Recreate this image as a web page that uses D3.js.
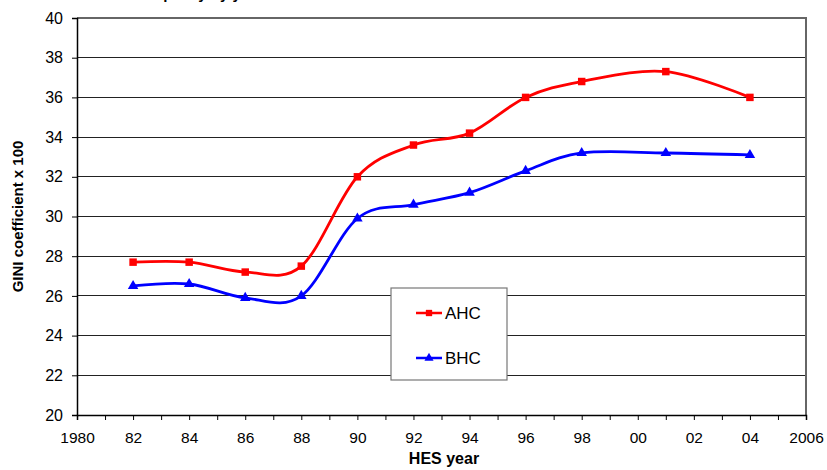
<!DOCTYPE html>
<html>
<head>
<meta charset="utf-8">
<script src="https://cdn.jsdelivr.net/npm/d3@7"></script>
<style>
  html, body { margin: 0; padding: 0; background: #fff; }
  svg { display: block; font-family: "Liberation Sans", Arial, sans-serif; }
</style>
</head>
<body>
<svg id="chart" width="827" height="470"></svg>
<script>
// HES survey years and GINI coefficients (x 100)
const years = [1982, 1984, 1986, 1988, 1990, 1992, 1994, 1996, 1998, 2001, 2004];
const ahc = [27.7, 27.7, 27.2, 27.5, 32.0, 33.6, 34.2, 36.0, 36.8, 37.3, 36.0];
const bhc = [26.5, 26.6, 25.9, 26.0, 29.9, 30.6, 31.2, 32.3, 33.2, 33.2, 33.1];
const xTickValues = d3.range(1980, 2007, 2);
const yTickValues = d3.range(20, 41, 2);
const seriesNames = ["AHC", "BHC"];

const svg = d3.select("#chart");
const plot = { left: 77, right: 806, top: 18, bottom: 415 };

const x = d3.scaleLinear().domain([1980, 2006]).range([plot.left, plot.right]);
const y = d3.scaleLinear().domain([20, 40]).range([plot.bottom, plot.top]);

const fmtYear = d => (d === 1980 || d === 2006) ? String(d) : String(d % 100).padStart(2, "0");

// Title (runs off the top edge)
svg.append("text")
  .attr("x", 80).attr("y", -1)
  .attr("font-size", 15).attr("font-weight", "bold")
  .text("Income inequality by year");

// Horizontal gridlines
svg.append("g").selectAll("line")
  .data(yTickValues.filter(v => v > 20 && v < 40))
  .join("line")
  .attr("x1", plot.left).attr("x2", plot.right)
  .attr("y1", d => y(d)).attr("y2", d => y(d))
  .attr("stroke", "#222").attr("stroke-width", 1)
  .attr("shape-rendering", "crispEdges");

// Plot frame: top and right edges
svg.append("path")
  .attr("d", `M${plot.left},${y(40)}H${plot.right}V${plot.bottom}`)
  .attr("fill", "none").attr("stroke", "#666").attr("stroke-width", 1.5)
  .attr("shape-rendering", "crispEdges");

// Y axis
const yAxis = svg.append("g")
  .attr("transform", `translate(${plot.left},0)`)
  .call(d3.axisLeft(y).tickValues(yTickValues).tickSize(5).tickPadding(9).tickFormat(d3.format("d")));
yAxis.select(".domain").attr("stroke", "#000").attr("stroke-width", 1.5);
yAxis.selectAll(".tick line").attr("stroke", "#000");
yAxis.selectAll("text").attr("font-size", 16).attr("fill", "#000")
  .attr("font-family", "Liberation Sans, Arial, sans-serif");

// X axis: minor ticks every year, labels every two years
const xAxis = svg.append("g")
  .attr("transform", `translate(0,${plot.bottom})`)
  .call(d3.axisBottom(x).ticks(26).tickSize(5).tickPadding(12)
    .tickFormat(d => (d % 2 === 0) ? fmtYear(d) : ""));
xAxis.select(".domain").attr("stroke", "#000").attr("stroke-width", 1.5);
xAxis.selectAll(".tick line").attr("stroke", "#000");
xAxis.selectAll("text").attr("font-size", 15.5).attr("fill", "#000")
  .attr("font-family", "Liberation Sans, Arial, sans-serif");

// Axis titles
svg.append("text")
  .attr("x", 444).attr("y", 464)
  .attr("text-anchor", "middle")
  .attr("font-size", 16).attr("font-weight", "bold")
  .text("HES year");
svg.append("text")
  .attr("transform", `translate(23,${(plot.top + plot.bottom) / 2}) rotate(-90)`)
  .attr("text-anchor", "middle")
  .attr("font-size", 15).attr("font-weight", "bold")
  .text("GINI coefficient x 100");

// Smoothed series lines
const line = d3.line()
  .x(d => x(d[0])).y(d => y(d[1]))
  .curve(d3.curveCatmullRom.alpha(0));

const series = [
  { name: seriesNames[0], values: ahc, color: "#ff0000", symbol: d3.symbolSquare },
  { name: seriesNames[1], values: bhc, color: "#0000ff", symbol: d3.symbolTriangle }
];

series.forEach(s => {
  const pts = years.map((yr, i) => [yr, s.values[i]]);
  svg.append("path")
    .datum(pts)
    .attr("d", line)
    .attr("fill", "none").attr("stroke", s.color).attr("stroke-width", 2.8);
  svg.append("g").selectAll("path")
    .data(pts)
    .join("path")
    .attr("transform", d => `translate(${x(d[0])},${y(d[1])})`)
    .attr("d", d3.symbol().type(s.symbol).size(s.symbol === d3.symbolSquare ? 56 : 48))
    .attr("fill", s.color);
});

// Legend
const legend = svg.append("g").attr("transform", "translate(391,288)");
legend.append("rect")
  .attr("width", 116).attr("height", 92)
  .attr("fill", "#fff").attr("stroke", "#777").attr("stroke-width", 1.2);
series.forEach((s, i) => {
  const ly = 25 + i * 45;
  legend.append("line")
    .attr("x1", 25).attr("x2", 51).attr("y1", ly).attr("y2", ly)
    .attr("stroke", s.color).attr("stroke-width", 2.5);
  legend.append("path")
    .attr("transform", `translate(38,${ly})`)
    .attr("d", d3.symbol().type(s.symbol).size(s.symbol === d3.symbolSquare ? 40 : 36))
    .attr("fill", s.color);
  legend.append("text")
    .attr("x", 54).attr("y", ly + 6)
    .attr("font-size", 17).attr("fill", "#000")
    .text(s.name);
});
</script>
</body>
</html>
